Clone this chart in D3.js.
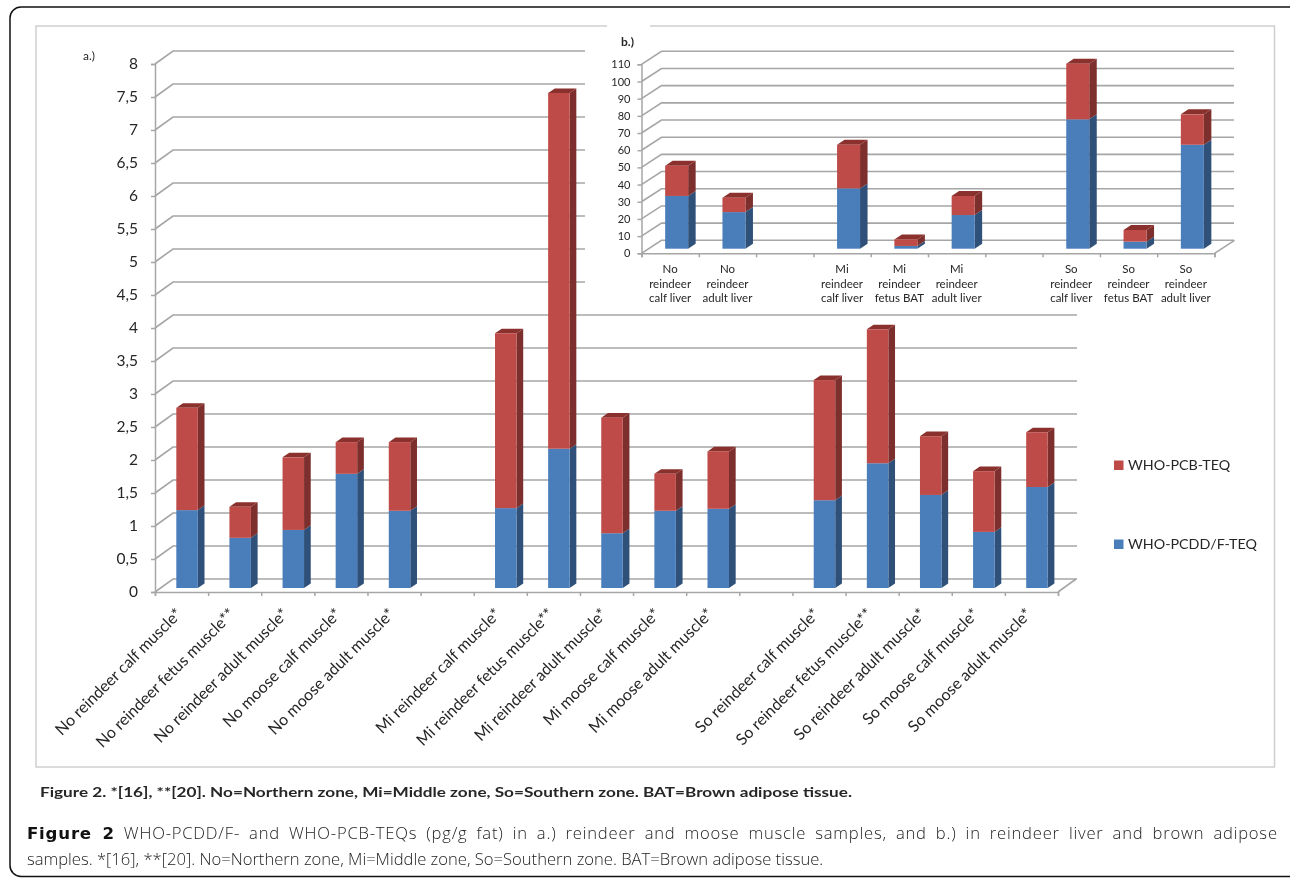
<!DOCTYPE html>
<html>
<head>
<meta charset="utf-8">
<script src="https://cdn.jsdelivr.net/npm/d3@7/dist/d3.min.js"></script>
<style>
  html, body { margin: 0; padding: 0; background: #fff; }
  svg { display: block; filter: blur(0.4px); }
  text { font-family: Lato, "Open Sans", sans-serif; fill: #262626; }
  .axis path { stroke: #a6a6a6; stroke-width: 1.5; }
  .axis line { stroke: #a6a6a6; stroke-width: 1.5; }
  .grid { stroke: #a6a6a6; stroke-width: 1.6; fill: none; }
</style>
</head>
<body>
<svg id="chart" width="1290" height="878"></svg>
<script>
// a.) muscle samples, null = empty slot between zones
const muscleLabels = [
  'No reindeer calf muscle*', 'No reindeer fetus muscle**', 'No reindeer adult muscle*', 'No moose calf muscle*', 'No moose adult muscle*', null,
  'Mi reindeer calf muscle*', 'Mi reindeer fetus muscle**', 'Mi reindeer adult muscle*', 'Mi moose calf muscle*', 'Mi moose adult muscle*', null,
  'So reindeer calf muscle*', 'So reindeer fetus muscle**', 'So reindeer adult muscle*', 'So moose calf muscle*', 'So moose adult muscle*'
];
const musclePcdd = [1.18, 0.76, 0.88, 1.73, 1.17, null, 1.21, 2.11, 0.83, 1.17, 1.20, null, 1.33, 1.89, 1.41, 0.85, 1.53];
const musclePcb = [1.55, 0.47, 1.10, 0.48, 1.04, null, 2.65, 5.39, 1.75, 0.56, 0.87, null, 1.82, 2.03, 0.89, 0.92, 0.83];
const muscleTicks = [0, 0.5, 1, 1.5, 2, 2.5, 3, 3.5, 4, 4.5, 5, 5.5, 6, 6.5, 7, 7.5, 8];

// b.) liver and BAT samples
const liverLabels = [
  ['No', 'reindeer', 'calf liver'], ['No', 'reindeer', 'adult liver'], null,
  ['Mi', 'reindeer', 'calf liver'], ['Mi', 'reindeer', 'fetus BAT'], ['Mi', 'reindeer', 'adult liver'], null,
  ['So', 'reindeer', 'calf liver'], ['So', 'reindeer', 'fetus BAT'], ['So', 'reindeer', 'adult liver']
];
const liverPcdd = [30.7, 21.3, null, 35.1, 1.6, 19.6, null, 75.3, 4.1, 60.5];
const liverPcb = [17.6, 8.4, null, 25.4, 3.8, 11.1, null, 32.4, 6.8, 17.7];
const liverTicks = [0, 10, 20, 30, 40, 50, 60, 70, 80, 90, 100, 110];

const seriesNames = ['WHO-PCB-TEQ', 'WHO-PCDD/F-TEQ'];

const colors = {
  blue: '#4a7ebb', blueSide: '#2f5078',
  red: '#be4b48', redSide: '#7d2f2d', redTop: '#8a302d'
};

const svg = d3.select('#chart');
const polygon = d3.line();

// page frames
svg.append('rect')
  .attr('x', 10).attr('y', 7)
  .attr('width', 1290).attr('height', 869.5)
  .attr('rx', 11)
  .attr('fill', 'none').attr('stroke', '#111').attr('stroke-width', 1.5);

svg.append('path')
  .attr('d', 'M607,26H36V767H1274.5V26H650')
  .attr('fill', 'none').attr('stroke', '#cfcfcf').attr('stroke-width', 1.5);

function drawBars(cfg) {
  const g = svg.append('g');
  const n = cfg.labels.length;
  const x = d3.scaleLinear().domain([0, n]).range(cfg.xRange);
  const y = d3.scaleLinear().domain(cfg.yDomain).range(cfg.yRange);
  const [backX, backY] = cfg.wall;
  const baseShift = cfg.barBase;

  // wall and floor gridlines
  g.selectAll('.grid')
    .data(cfg.ticks)
    .join('path')
      .attr('class', 'grid')
      .attr('d', d => polygon([
        [x(0), y(d)],
        [x(0) + backX, y(d) - backY],
        [cfg.gridEnd(d), y(d) - backY]
      ]));

  // right edge of the floor
  g.append('path')
    .attr('class', 'grid')
    .attr('d', polygon([[x(n), y(0)], [x(n) + backX, y(0) - backY]]));

  const yAxis = d3.axisLeft(y)
    .tickValues(cfg.ticks)
    .tickSize(4)
    .tickPadding(cfg.tickPad)
    .tickFormat(d => String(d).replace('.', ','));
  g.append('g')
    .attr('class', 'axis')
    .attr('transform', `translate(${x(0)},0)`)
    .call(yAxis)
    .call(a => a.selectAll('text').style('font-size', cfg.tickFont + 'px').style('font-family', 'Lato, sans-serif'));

  const xAxis = d3.axisBottom(x)
    .tickValues(d3.range(n + 1))
    .tickSize(4)
    .tickFormat('');
  g.append('g')
    .attr('class', 'axis')
    .attr('transform', `translate(0,${y(0)})`)
    .call(xAxis);

  // stacked 3d bars
  const idx = d3.range(n).filter(i => cfg.labels[i] !== null);
  const unit = y(0) - y(1);
  const px = i => x(i) + (x(1) - x(0)) / 2 + cfg.barShift - cfg.barW / 2;
  const py = v => y(0) - baseShift - v * unit;

  const bars = g.selectAll('.bar')
    .data(idx)
    .join('g')
      .attr('class', 'bar');

  // side faces
  bars.append('path')
    .attr('fill', colors.blueSide)
    .attr('d', i => {
      const l = px(i) + cfg.barW, t = py(cfg.pcdd[i]), b = py(0);
      return polygon([[l, b], [l + cfg.depth[0], b - cfg.depth[1]], [l + cfg.depth[0], t - cfg.depth[1]], [l, t]]) + 'Z';
    });
  bars.append('path')
    .attr('fill', colors.redSide)
    .attr('d', i => {
      const l = px(i) + cfg.barW, t = py(cfg.pcdd[i] + cfg.pcb[i]), b = py(cfg.pcdd[i]);
      return polygon([[l, b], [l + cfg.depth[0], b - cfg.depth[1]], [l + cfg.depth[0], t - cfg.depth[1]], [l, t]]) + 'Z';
    });
  // top face
  bars.append('path')
    .attr('fill', colors.redTop)
    .attr('d', i => {
      const l = px(i), t = py(cfg.pcdd[i] + cfg.pcb[i]);
      return polygon([[l, t], [l + cfg.depth[0], t - cfg.depth[1]], [l + cfg.barW + cfg.depth[0], t - cfg.depth[1]], [l + cfg.barW, t]]) + 'Z';
    });
  // front faces
  bars.append('rect')
    .attr('fill', colors.blue)
    .attr('x', px).attr('width', cfg.barW)
    .attr('y', i => py(cfg.pcdd[i]))
    .attr('height', i => py(0) - py(cfg.pcdd[i]));
  bars.append('rect')
    .attr('fill', colors.red)
    .attr('x', px).attr('width', cfg.barW)
    .attr('y', i => py(cfg.pcdd[i] + cfg.pcb[i]))
    .attr('height', i => py(cfg.pcdd[i]) - py(cfg.pcdd[i] + cfg.pcb[i]));

  return { g, x, y, idx };
}

// a.) main chart
const mainChart = drawBars({
  labels: muscleLabels, pcdd: musclePcdd, pcb: musclePcb, ticks: muscleTicks,
  xRange: [155, 1058], yDomain: [0, 8], yRange: [592, 64],
  wall: [18, 13], barBase: 4, barW: 21.5, barShift: 5.5, depth: [6.7, 4.6],
  tickPad: 13, tickFont: 15.5,
  gridEnd: d => (d > 4 ? 585 : 1077)
});

mainChart.g.selectAll('.muscle-label')
  .data(mainChart.idx)
  .join('text')
    .attr('class', 'muscle-label')
    .attr('text-anchor', 'end')
    .attr('transform', i => `translate(${mainChart.x(i) + 28},${mainChart.y(0) + 23}) rotate(-45)`)
    .style('font-size', '16px')
    .text(i => muscleLabels[i]);

// b.) inset chart
const insetChart = drawBars({
  labels: liverLabels, pcdd: liverPcdd, pcb: liverPcb, ticks: liverTicks,
  xRange: [641.5, 1214.5], yDomain: [0, 110], yRange: [253.3, 64.3],
  wall: [20, 13], barBase: 4.6, barW: 23, barShift: 6.5, depth: [7.5, 5],
  tickPad: 7, tickFont: 11,
  gridEnd: () => 1234
});

insetChart.g.selectAll('.liver-label')
  .data(insetChart.idx)
  .join('text')
    .attr('class', 'liver-label')
    .attr('text-anchor', 'middle')
    .style('font-size', '11.5px')
    .selectAll('tspan')
    .data(i => liverLabels[i].map((t, k) => ({ t, k, cx: insetChart.x(i + 0.5) })))
    .join('tspan')
      .attr('x', d => d.cx)
      .attr('y', d => 273 + d.k * 14.6)
      .text(d => d.t);

// panel letters
svg.append('text').attr('x', 83).attr('y', 60).style('font-size', '12px').text('a.)');
svg.append('text').attr('x', 621).attr('y', 46).style('font-size', '12px').style('font-weight', 700).text('b.)');

// legend
const legendRows = [
  { name: seriesNames[0], color: colors.red, cy: 465 },
  { name: seriesNames[1], color: colors.blue, cy: 544 }
];
const legend = svg.selectAll('.legend')
  .data(legendRows)
  .join('g')
    .attr('class', 'legend');
legend.append('rect')
  .attr('x', 1114).attr('y', d => d.cy - 4.5)
  .attr('width', 9.5).attr('height', 9.5)
  .attr('fill', d => d.color);
legend.append('text')
  .attr('x', 1128).attr('y', d => d.cy + 5)
  .style('font-size', '14.3px')
  .text(d => d.name);

// captions
const note = svg.append('text')
  .attr('x', 40).attr('y', 797)
  .attr('textLength', 812).attr('lengthAdjust', 'spacingAndGlyphs')
  .style('font-size', '14px').style('font-weight', 700);
note.text('Figure 2. *[16], **[20]. No=Northern zone, Mi=Middle zone, So=Southern zone. BAT=Brown adipose tissue.');

const capStyle = sel => sel
  .style('font-family', '"Open Sans", sans-serif')
  .style('font-size', '16.6px')
  .style('font-weight', 300)
  .style('fill', '#222');

const line1 = svg.append('text').attr('x', 27).attr('y', 839)
  .attr('textLength', 1250).attr('lengthAdjust', 'spacing')
  .style('word-spacing', '4px')
  .call(capStyle);
line1.append('tspan')
  .style('font-family', '"DejaVu Sans", sans-serif')
  .style('font-weight', 700)
  .style('fill', '#111')
  .text('Figure 2');
line1.append('tspan').text(' WHO-PCDD/F- and WHO-PCB-TEQs (pg/g fat) in a.) reindeer and moose muscle samples, and b.) in reindeer liver and brown adipose');

svg.append('text').attr('x', 27).attr('y', 865).call(capStyle)
  .text('samples. *[16], **[20]. No=Northern zone, Mi=Middle zone, So=Southern zone. BAT=Brown adipose tissue.');
</script>
</body>
</html>
